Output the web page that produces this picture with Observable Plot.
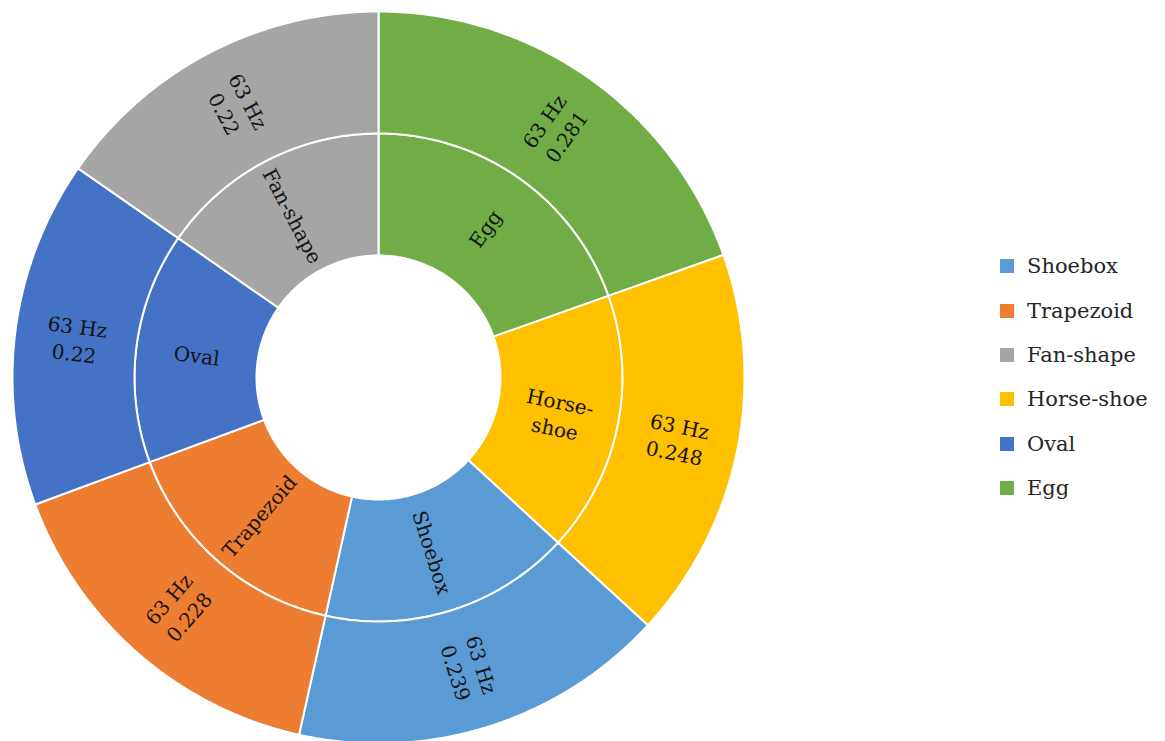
<!DOCTYPE html>
<html>
<head>
<meta charset="utf-8">
<script src="https://cdn.jsdelivr.net/npm/d3@7"></script>
<script src="https://cdn.jsdelivr.net/npm/@observablehq/plot@0.6"></script>
<style>
  html, body { margin: 0; padding: 0; background: #fff; }
  #wrap { position: relative; width: 1165px; height: 741px; overflow: hidden; }
  #legend { position: absolute; left: 1000px; top: 244px; font-family: "DejaVu Serif", serif; font-size: 21px; color: #262626; }
  .row { height: 44.4px; display: flex; align-items: center; }
  .sw { width: 14px; height: 14px; margin-right: 13px; }
</style>
</head>
<body>
<div id="wrap"><div id="legend"></div></div>
<script>
// Legend order (series order)
const legendShapes = ["Shoebox", "Trapezoid", "Fan-shape", "Horse-shoe", "Oval", "Egg"];
const legendColors = ["#5B9BD5", "#ED7D31", "#A5A5A5", "#FFC000", "#4472C4", "#70AD47"];

// Ring order (clockwise from 12 o'clock, sorted by value)
const shapes = ["Egg", "Horse-shoe", "Shoebox", "Trapezoid", "Oval", "Fan-shape"];
const innerLabels = ["Egg", "Horse-\nshoe", "Shoebox", "Trapezoid", "Oval", "Fan-shape"];
const frequency = ["63 Hz", "63 Hz", "63 Hz", "63 Hz", "63 Hz", "63 Hz"];
const values = [0.281, 0.248, 0.239, 0.228, 0.22, 0.22];

// ---- geometry derived from data ----
const W = 1165, H = 741;
const CX = 378, CY = 377, RPX = 366;
const total = d3.sum(values);
const rings = [[1/3, 2/3], [2/3, 1]];
let acc = 0;
const segs = shapes.map((s, i) => {
  const a0 = acc / total * 2 * Math.PI;
  acc += values[i];
  const a1 = acc / total * 2 * Math.PI;
  return {shape: s, a0, a1, mid: (a0 + a1) / 2, value: values[i], i};
});

const polys = [];
segs.forEach(sg => {
  rings.forEach(([r0, r1], ri) => {
    const n = 120;
    const key = sg.shape + "-" + ri;
    const pts = [];
    for (let k = 0; k <= n; k++) {
      const a = sg.a0 + (sg.a1 - sg.a0) * k / n;
      pts.push({key, shape: sg.shape, x: r1 * Math.sin(a), y: r1 * Math.cos(a)});
    }
    for (let k = n; k >= 0; k--) {
      const a = sg.a0 + (sg.a1 - sg.a0) * k / n;
      pts.push({key, shape: sg.shape, x: r0 * Math.sin(a), y: r0 * Math.cos(a)});
    }
    pts.push({...pts[0]});
    polys.push(...pts);
  });
});

function rot(mid) {
  let d = mid * 180 / Math.PI - 90;
  if (d > 90) d -= 180;
  if (d < -90) d += 180;
  return d;
}
const labels = [];
segs.forEach(sg => {
  const rIn = 0.5, rOut = 5/6;
  labels.push({x: rIn * Math.sin(sg.mid), y: rIn * Math.cos(sg.mid), text: innerLabels[sg.i], rotate: rot(sg.mid)});
  labels.push({x: rOut * Math.sin(sg.mid), y: rOut * Math.cos(sg.mid), text: frequency[sg.i] + "\n" + sg.value, rotate: rot(sg.mid)});
});

const chart = Plot.plot({
  width: W,
  height: H,
  margin: 0,
  x: {domain: [-CX / RPX, (W - CX) / RPX], range: [0, W], axis: null},
  y: {domain: [-(H - CY) / RPX, CY / RPX], range: [H, 0], axis: null},
  color: {domain: legendShapes, range: legendColors},
  style: {background: "#fff"},
  marks: [
    Plot.line(polys, {x: "x", y: "y", z: "key", fill: "shape", stroke: "white", strokeWidth: 2, strokeLinejoin: "round", curve: "linear"}),
    Plot.text(labels, {x: "x", y: "y", text: "text", rotate: "rotate", fontSize: 20, fontFamily: "DejaVu Serif", fill: "#141414", lineHeight: 1.35, textAnchor: "middle", lineAnchor: "middle"})
  ]
});
document.getElementById("wrap").prepend(chart);

const legend = document.getElementById("legend");
legendShapes.forEach((s, i) => {
  const row = document.createElement("div");
  row.className = "row";
  const sw = document.createElement("div");
  sw.className = "sw";
  sw.style.background = legendColors[i];
  const t = document.createElement("span");
  t.textContent = s;
  row.appendChild(sw);
  row.appendChild(t);
  legend.appendChild(row);
});
</script>
</body>
</html>
